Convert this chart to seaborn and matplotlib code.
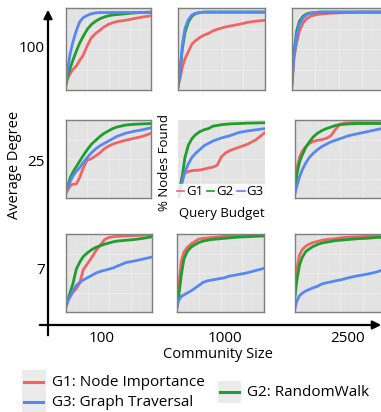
import numpy as np
import pandas as pd
import matplotlib
matplotlib.use('Agg')
import matplotlib.pyplot as plt
from matplotlib.lines import Line2D
from matplotlib.patches import Rectangle, FancyArrowPatch
import seaborn as sns

# query budget (% of budget used), shared x grid for every panel
BUDGET = [0, 2, 5, 8, 12, 16, 20, 25, 30, 35, 40, 45, 50, 55, 60, 70, 80, 90, 100]

# fraction of community nodes found; rows = average degree, cols = community size
# degree 100
g1_d100_s100 = [0.08, 0.14, 0.20, 0.25, 0.29, 0.36, 0.42, 0.54, 0.64, 0.69, 0.73, 0.77, 0.80, 0.82, 0.835, 0.85, 0.87, 0.89, 0.905]
g2_d100_s100 = [0.07, 0.17, 0.27, 0.36, 0.47, 0.57, 0.65, 0.74, 0.80, 0.84, 0.87, 0.89, 0.905, 0.915, 0.92, 0.93, 0.94, 0.945, 0.95]
g3_d100_s100 = [0.07, 0.26, 0.45, 0.58, 0.72, 0.83, 0.88, 0.91, 0.93, 0.94, 0.945, 0.945, 0.945, 0.945, 0.945, 0.945, 0.945, 0.945, 0.945]

g1_d100_s1000 = [0.05, 0.12, 0.28, 0.38, 0.47, 0.56, 0.60, 0.64, 0.67, 0.69, 0.72, 0.74, 0.755, 0.77, 0.78, 0.80, 0.825, 0.84, 0.85]
g2_d100_s1000 = [0.04, 0.20, 0.50, 0.70, 0.83, 0.90, 0.93, 0.945, 0.95, 0.95, 0.95, 0.95, 0.95, 0.95, 0.95, 0.95, 0.95, 0.95, 0.95]
g3_d100_s1000 = [0.04, 0.20, 0.55, 0.75, 0.86, 0.915, 0.935, 0.945, 0.95, 0.95, 0.95, 0.95, 0.95, 0.95, 0.95, 0.95, 0.95, 0.95, 0.95]

g1_d100_s2500 = [0.10, 0.38, 0.58, 0.72, 0.82, 0.87, 0.90, 0.915, 0.925, 0.93, 0.935, 0.938, 0.94, 0.943, 0.945, 0.95, 0.95, 0.95, 0.95]
g2_d100_s2500 = [0.08, 0.45, 0.72, 0.84, 0.90, 0.93, 0.94, 0.945, 0.95, 0.95, 0.95, 0.95, 0.95, 0.95, 0.95, 0.95, 0.95, 0.95, 0.95]
g3_d100_s2500 = [0.05, 0.40, 0.66, 0.80, 0.88, 0.92, 0.935, 0.945, 0.95, 0.95, 0.95, 0.95, 0.95, 0.95, 0.95, 0.95, 0.95, 0.95, 0.95]

# degree 25
g1_d25_s100 = [0.07, 0.10, 0.16, 0.175, 0.18, 0.26, 0.38, 0.485, 0.505, 0.54, 0.58, 0.63, 0.665, 0.69, 0.71, 0.74, 0.765, 0.79, 0.83]
g2_d25_s100 = [0.07, 0.15, 0.26, 0.33, 0.40, 0.47, 0.54, 0.62, 0.69, 0.74, 0.79, 0.83, 0.86, 0.89, 0.91, 0.935, 0.945, 0.95, 0.955]
g3_d25_s100 = [0.07, 0.13, 0.21, 0.28, 0.34, 0.39, 0.45, 0.52, 0.58, 0.63, 0.67, 0.70, 0.73, 0.76, 0.79, 0.83, 0.855, 0.875, 0.90]

g1_d25_s1000 = [0.01, 0.12, 0.27, 0.32, 0.34, 0.35, 0.355, 0.36, 0.37, 0.385, 0.395, 0.42, 0.53, 0.58, 0.61, 0.65, 0.69, 0.75, 0.84]
g2_d25_s1000 = [0.01, 0.10, 0.29, 0.52, 0.68, 0.76, 0.81, 0.85, 0.875, 0.89, 0.92, 0.93, 0.94, 0.945, 0.95, 0.955, 0.96, 0.962, 0.965]
g3_d25_s1000 = [0.01, 0.08, 0.21, 0.34, 0.44, 0.52, 0.57, 0.62, 0.67, 0.70, 0.73, 0.75, 0.77, 0.785, 0.80, 0.84, 0.86, 0.875, 0.89]

g1_d25_s2500 = [0.12, 0.38, 0.52, 0.60, 0.66, 0.70, 0.725, 0.74, 0.75, 0.765, 0.80, 0.88, 0.945, 0.96, 0.965, 0.965, 0.965, 0.965, 0.965]
g2_d25_s2500 = [0.08, 0.30, 0.46, 0.55, 0.65, 0.72, 0.78, 0.83, 0.865, 0.89, 0.91, 0.93, 0.94, 0.945, 0.95, 0.955, 0.955, 0.955, 0.955]
g3_d25_s2500 = [0.06, 0.15, 0.27, 0.36, 0.45, 0.52, 0.57, 0.62, 0.66, 0.69, 0.72, 0.74, 0.76, 0.78, 0.80, 0.825, 0.85, 0.875, 0.90]

# degree 7
g1_d7_s100 = [0.10, 0.14, 0.20, 0.25, 0.30, 0.37, 0.54, 0.62, 0.70, 0.79, 0.86, 0.93, 0.955, 0.965, 0.97, 0.975, 0.98, 0.985, 0.99]
g2_d7_s100 = [0.07, 0.15, 0.26, 0.36, 0.55, 0.64, 0.71, 0.76, 0.80, 0.83, 0.85, 0.87, 0.885, 0.90, 0.91, 0.92, 0.93, 0.945, 0.965]
g3_d7_s100 = [0.07, 0.13, 0.21, 0.27, 0.34, 0.38, 0.41, 0.44, 0.47, 0.50, 0.52, 0.535, 0.55, 0.565, 0.59, 0.635, 0.655, 0.68, 0.705]

g1_d7_s1000 = [0.10, 0.35, 0.65, 0.77, 0.83, 0.87, 0.90, 0.935, 0.945, 0.95, 0.955, 0.96, 0.965, 0.97, 0.97, 0.975, 0.98, 0.985, 0.99]
g2_d7_s1000 = [0.06, 0.20, 0.48, 0.68, 0.78, 0.83, 0.86, 0.89, 0.91, 0.92, 0.93, 0.935, 0.94, 0.945, 0.95, 0.96, 0.965, 0.97, 0.975]
g3_d7_s1000 = [0.07, 0.15, 0.20, 0.22, 0.245, 0.27, 0.30, 0.34, 0.38, 0.40, 0.41, 0.42, 0.43, 0.44, 0.46, 0.48, 0.50, 0.53, 0.56]

g1_d7_s2500 = [0.30, 0.55, 0.73, 0.80, 0.845, 0.87, 0.89, 0.905, 0.92, 0.93, 0.935, 0.94, 0.95, 0.955, 0.96, 0.965, 0.97, 0.975, 0.98]
g2_d7_s2500 = [0.20, 0.40, 0.60, 0.70, 0.775, 0.81, 0.84, 0.865, 0.885, 0.895, 0.905, 0.915, 0.92, 0.925, 0.93, 0.94, 0.945, 0.955, 0.96]
g3_d7_s2500 = [0.05, 0.14, 0.21, 0.24, 0.27, 0.29, 0.31, 0.33, 0.36, 0.375, 0.385, 0.40, 0.41, 0.425, 0.44, 0.465, 0.485, 0.51, 0.55]

DEGREES = ['100', '25', '7']
SIZES = ['100', '1000', '2500']
GROUPS = ['G1', 'G2', 'G3']
GROUP_NAMES = ['G1: Node Importance', 'G2: RandomWalk', 'G3: Graph Traversal']

PANELS = {
    ('100', '100'): (g1_d100_s100, g2_d100_s100, g3_d100_s100),
    ('100', '1000'): (g1_d100_s1000, g2_d100_s1000, g3_d100_s1000),
    ('100', '2500'): (g1_d100_s2500, g2_d100_s2500, g3_d100_s2500),
    ('25', '100'): (g1_d25_s100, g2_d25_s100, g3_d25_s100),
    ('25', '1000'): (g1_d25_s1000, g2_d25_s1000, g3_d25_s1000),
    ('25', '2500'): (g1_d25_s2500, g2_d25_s2500, g3_d25_s2500),
    ('7', '100'): (g1_d7_s100, g2_d7_s100, g3_d7_s100),
    ('7', '1000'): (g1_d7_s1000, g2_d7_s1000, g3_d7_s1000),
    ('7', '2500'): (g1_d7_s2500, g2_d7_s2500, g3_d7_s2500),
}

colors = {'G1': '#F26464', 'G2': '#1E9E2A', 'G3': '#5588F5'}

W, H = 381, 412
fig = plt.figure(figsize=(W / 100, H / 100), dpi=100)
plt.rcParams['font.family'] = ['Open Sans', 'DejaVu Sans']


def px_axes(x0, y0, x1, y1):
    return fig.add_axes([x0 / W, 1 - y1 / H, (x1 - x0) / W, (y1 - y0) / H])


def fx(x):
    return x / W


def fy(y):
    return 1 - y / H


# pixel boxes for each panel (left, top, right, bottom)
row_y = [(8, 90), (120, 198), (234, 312)]
col_x = [[(66, 151), (178, 265), (292, 385)],
         [(66, 151), (178, 265), (295, 385)],
         [(66, 152), (177, 264), (295, 385)]]

for i, deg in enumerate(DEGREES):
    for j, size in enumerate(SIZES):
        x0, x1 = col_x[i][j]
        y0, y1 = row_y[i]
        ax = px_axes(x0, y0, x1, y1)
        ax.set_facecolor('#E3E3E3')
        rows = []
        for g, vals in zip(GROUPS, PANELS[(deg, size)]):
            rows.append(pd.DataFrame({'budget': BUDGET, 'found': vals, 'group': g}))
        df = pd.concat(rows, ignore_index=True)
        sns.lineplot(data=df, x='budget', y='found', hue='group', palette=colors,
                     linewidth=2.0, ax=ax, legend=(deg == '25' and size == '1000'))
        ax.set_xlim(0, 100)
        ax.set_ylim(0, 1.0)
        ax.set_xticks([25, 50, 75])
        ax.set_xticks([12.5, 37.5, 62.5, 87.5], minor=True)
        ax.set_yticks([0.25, 0.5, 0.75])
        ax.set_yticks([0.125, 0.375, 0.625, 0.875], minor=True)
        ax.grid(which='major', color='#F0F0F0', linewidth=0.6)
        ax.grid(which='minor', color='#EAEAEA', linewidth=0.35)
        ax.set_axisbelow(True)
        ax.tick_params(which='both', length=0, labelbottom=False, labelleft=False)
        ax.set_xlabel('')
        ax.set_ylabel('')
        for sp in ax.spines.values():
            sp.set_color('#7F7F7F')
            sp.set_linewidth(1.0)
        if deg == '25' and size == '1000':
            for sp in ax.spines.values():
                sp.set_visible(False)
            leg = ax.legend(loc='lower right', bbox_to_anchor=(1.0, -0.02), ncol=3,
                            fontsize=9.5, frameon=True, fancybox=False,
                            handlelength=0.55, handletextpad=0.15, columnspacing=0.3,
                            borderpad=0.1, borderaxespad=0)
            leg.get_frame().set_facecolor('white')
            leg.get_frame().set_edgecolor('white')
            for ln in leg.get_lines():
                ln.set_linewidth(1.2)
            ax.text(-0.15, 0.45, '% Nodes Found', transform=ax.transAxes, rotation=90,
                    ha='center', va='center', fontsize=9.5)
            ax.text(0.5, -0.2, 'Query Budget', transform=ax.transAxes,
                    ha='center', va='center', fontsize=9.5)

# big axes arrows
fig.add_artist(FancyArrowPatch((fx(48), fy(338)), (fx(48), fy(7)), transform=fig.transFigure,
                               arrowstyle='-|>,head_length=5,head_width=2.5', color='black', lw=1.6))
fig.add_artist(FancyArrowPatch((fx(37), fy(325)), (fx(384), fy(325)), transform=fig.transFigure,
                               arrowstyle='-|>,head_length=5,head_width=2.5', color='black', lw=1.6))

# row / column labels
for lab, y in zip(DEGREES, [48, 163, 271]):
    fig.text(fx(45), fy(y), lab, ha='right', va='center', fontsize=11)
for lab, x in zip(SIZES, [102, 225, 348]):
    fig.text(fx(x), fy(339), lab, ha='center', va='center', fontsize=11)
fig.text(fx(15), fy(165), 'Average Degree', rotation=90, ha='center', va='center', fontsize=10.5)
fig.text(fx(218), fy(354), 'Community Size', ha='center', va='center', fontsize=10.5)

# bottom legend with grey key boxes
fig.add_artist(Rectangle((fx(22), fy(412)), fx(24), 42 / H, transform=fig.transFigure,
                         facecolor='#EBEBEB', edgecolor='none'))
fig.add_artist(Rectangle((fx(218), fy(403)), fx(23), 22 / H, transform=fig.transFigure,
                         facecolor='#EBEBEB', edgecolor='none'))
key_pos = {'G1': (24, 43, 382, 52), 'G3': (24, 43, 402, 52), 'G2': (220, 239, 392, 247)}
for g, name in zip(GROUPS, GROUP_NAMES):
    xa, xb, yk, xt = key_pos[g]
    fig.add_artist(Line2D([fx(xa), fx(xb)], [fy(yk), fy(yk)], transform=fig.transFigure,
                          color=colors[g], linewidth=2.2))
    fig.text(fx(xt), fy(yk), name, ha='left', va='center', fontsize=11)

fig.savefig('out.png', dpi=100)
